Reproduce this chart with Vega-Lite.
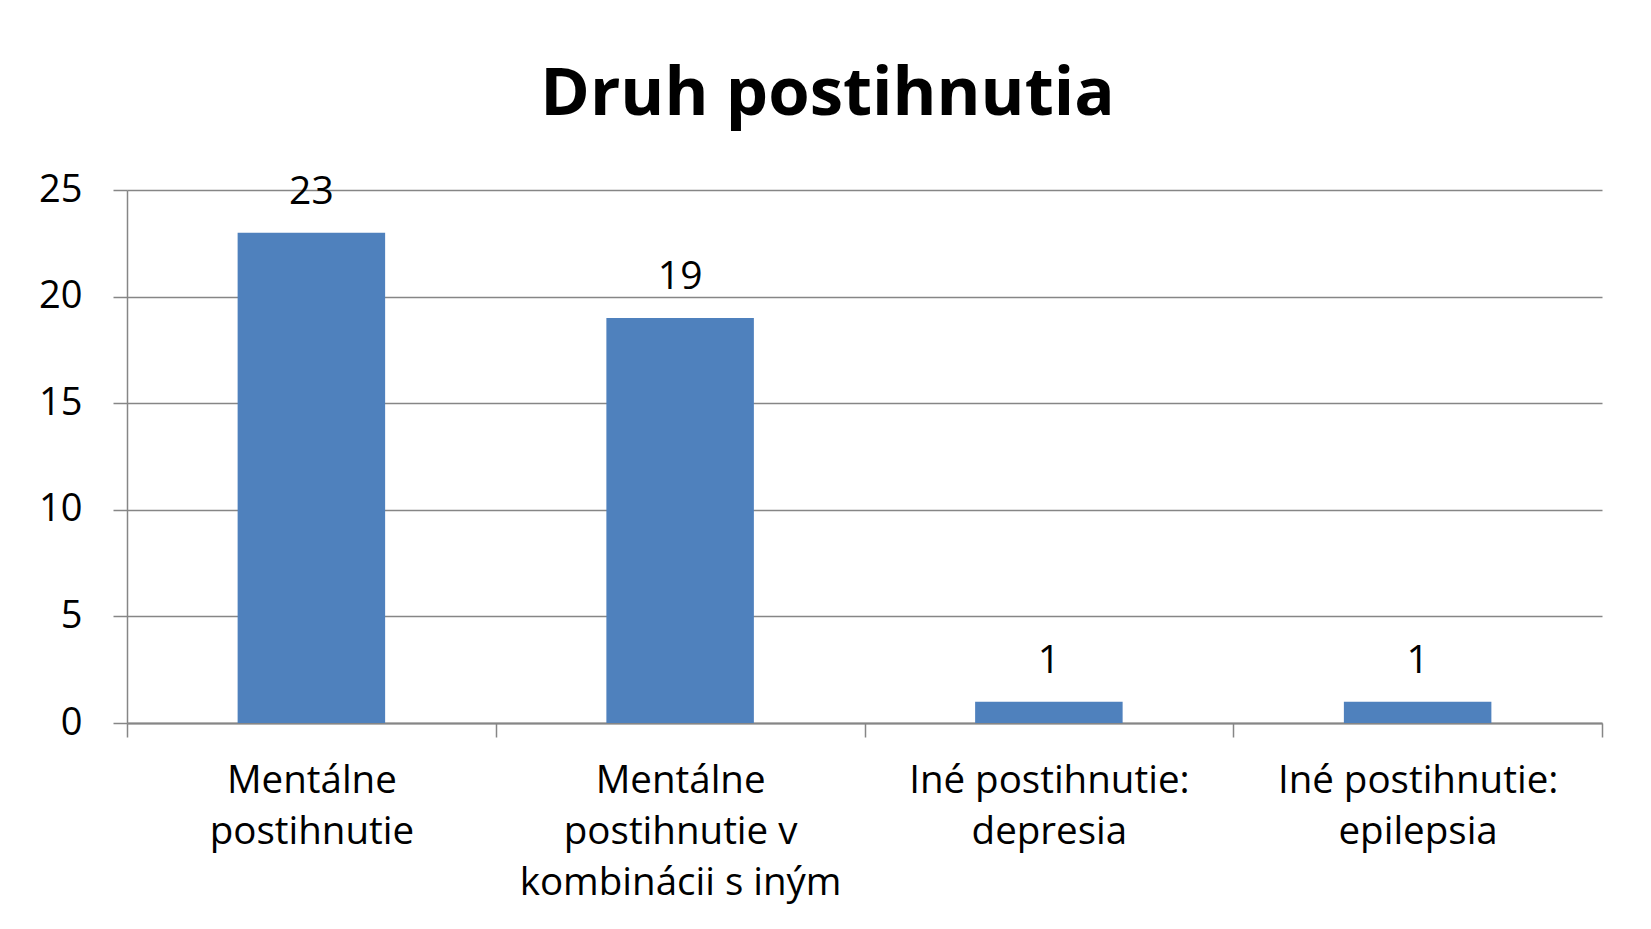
{
  "$schema": "https://vega.github.io/schema/vega-lite/v6.json",
  "autosize": {"type": "none"},
  "width": 1475,
  "height": 533,
  "padding": {"left": 127, "top": 190, "right": 49, "bottom": 206},
  "background": "white",
  "config": {
    "view": {"stroke": null},
    "font": "Open Sans"
  },
  "title": {
    "text": "Druh postihnutia",
    "font": "Open Sans",
    "fontSize": 67,
    "fontWeight": "bold",
    "color": "#000000",
    "anchor": "middle",
    "dx": -37,
    "offset": 42
  },
  "data": {
    "values": [
      {"kategoria": "Mentálne\npostihnutie", "pocet": 23},
      {"kategoria": "Mentálne\npostihnutie v\nkombinácii s iným", "pocet": 19},
      {"kategoria": "Iné postihnutie:\ndepresia", "pocet": 1},
      {"kategoria": "Iné postihnutie:\nepilepsia", "pocet": 1}
    ]
  },
  "encoding": {
    "x": {
      "field": "kategoria",
      "type": "nominal",
      "sort": null,
      "title": null,
      "scale": {"paddingInner": 0, "paddingOuter": 0},
      "axis": {
        "labelAngle": 0,
        "labelExpr": "split(datum.label, '\\n')",
        "labelFont": "Open Sans",
        "labelFontSize": 38.5,
        "labelColor": "#000000",
        "labelLineHeight": 51,
        "labelBaseline": "alphabetic",
        "labelPadding": 55,
        "labelLimit": 0,
        "tickBand": "extent",
        "tickSize": 14,
        "tickColor": "#868686",
        "tickWidth": 1.5,
        "domainColor": "#868686",
        "domainWidth": 2,
        "grid": false
      }
    },
    "y": {
      "field": "pocet",
      "type": "quantitative",
      "title": null,
      "scale": {"domain": [0, 25]},
      "axis": {
        "values": [0, 5, 10, 15, 20, 25],
        "labelFont": "Open Sans",
        "labelFontSize": 38,
        "labelColor": "#000000",
        "labelPadding": 31,
        "tickSize": 14,
        "tickColor": "#868686",
        "tickWidth": 1.5,
        "domainColor": "#868686",
        "domainWidth": 1.5,
        "gridColor": "#868686",
        "gridWidth": 1.5
      }
    }
  },
  "layer": [
    {"mark": {"type": "bar", "color": "#4F81BD", "width": {"band": 0.4}}},
    {
      "mark": {
        "type": "text",
        "font": "Open Sans",
        "fontSize": 39,
        "color": "#000000",
        "baseline": "alphabetic",
        "dy": -29
      },
      "encoding": {"text": {"field": "pocet", "type": "quantitative"}}
    }
  ]
}
